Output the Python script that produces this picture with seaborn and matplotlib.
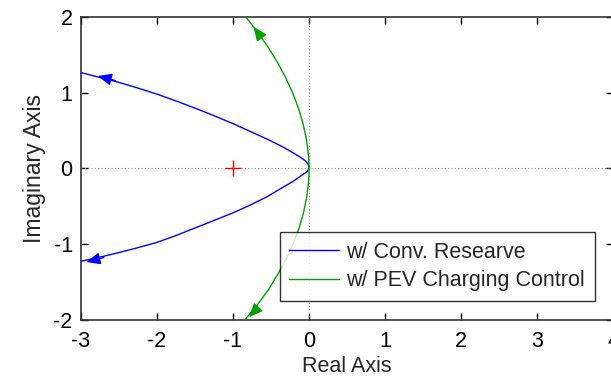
import numpy as np
import pandas as pd
import matplotlib
matplotlib.use("Agg")
import matplotlib.pyplot as plt
import seaborn as sns

# Root-locus branches (real part, imaginary part)
conv_upper_re = [0.0, -0.01, -0.05, -0.12, -0.22, -0.34, -0.55, -0.78, -1.0, -1.25, -1.5, -1.75, -2.0, -2.25, -2.5, -2.75, -3.0]
conv_upper_im = [0.0, 0.05, 0.10, 0.15, 0.21, 0.28, 0.385, 0.49, 0.59, 0.695, 0.795, 0.89, 0.98, 1.06, 1.135, 1.20, 1.265]
conv_lower_re = [0.0, -0.02, -0.06, -0.12, -0.22, -0.34, -0.55, -0.78, -1.0, -1.25, -1.5, -1.75, -2.0, -2.25, -2.5, -2.75, -3.0]
conv_lower_im = [0.0, -0.04, -0.07, -0.11, -0.18, -0.25, -0.375, -0.49, -0.59, -0.69, -0.79, -0.89, -0.98, -1.05, -1.115, -1.175, -1.23]

pev_upper_re = [0.0, -0.002, -0.01, -0.037, -0.081, -0.141, -0.217, -0.308, -0.415, -0.537, -0.675, -0.83]
pev_upper_im = [0.0, 0.1, 0.2, 0.4, 0.6, 0.8, 1.0, 1.2, 1.4, 1.6, 1.8, 2.0]
pev_lower_re = [0.0, -0.002, -0.008, -0.033, -0.075, -0.133, -0.208, -0.30, -0.41, -0.53, -0.675, -0.84]
pev_lower_im = [0.0, -0.1, -0.2, -0.4, -0.6, -0.8, -1.0, -1.2, -1.4, -1.6, -1.8, -2.0]

# Direction arrows along each branch: (tail, head)
conv_arrows = [((-2.55, 1.16), (-2.78, 1.22)), ((-2.7, -1.18), (-2.93, -1.24))]
pev_arrows = [((-0.62, 1.72), (-0.73, 1.87)), ((-0.68, -1.85), (-0.79, -1.97))]

open_loop_pole = (-1.0, 0.0)

series_names = ["w/ Conv. Researve", "w/ PEV Charging Control"]
series_colors = ["#0000ff", "#00a000"]
x_ticks = [-3, -2, -1, 0, 1, 2, 3, 4]
y_ticks = [-2, -1, 0, 1, 2]

sns.set_theme(style="white")
plt.rcParams["font.family"] = ["Liberation Sans", "DejaVu Sans"]
plt.rcParams["axes.unicode_minus"] = False

fig = plt.figure(figsize=(6.11, 3.81), dpi=100)
ax = fig.add_axes([81 / 611, 61.5 / 381, 532 / 611, 302.5 / 381])

frames = []
for name, branches in [
    (series_names[0], [(conv_upper_re, conv_upper_im), (conv_lower_re, conv_lower_im)]),
    (series_names[1], [(pev_upper_re, pev_upper_im), (pev_lower_re, pev_lower_im)]),
]:
    for i, (re, im) in enumerate(branches):
        frames.append(pd.DataFrame({"re": re, "im": im, "series": name, "branch": i}))
df = pd.concat(frames, ignore_index=True)

# zero reference lines
ax.axhline(0, color="#888888", lw=0.8, ls=(0, (1, 2)), zorder=1)
ax.axvline(0, color="#888888", lw=0.8, ls=(0, (1, 2)), zorder=1)

sns.lineplot(data=df, x="re", y="im", hue="series", units="branch", estimator=None,
             sort=False, palette=dict(zip(series_names, series_colors)),
             lw=1.0, ax=ax, zorder=3)

for arrows, color in [(conv_arrows, series_colors[0]), (pev_arrows, series_colors[1])]:
    for tail, head in arrows:
        ax.annotate("", xy=head, xytext=tail,
                    arrowprops=dict(arrowstyle="-|>,head_length=0.7,head_width=0.3",
                                    color=color, lw=1.0, shrinkA=0, shrinkB=0),
                    zorder=4)

ax.plot(*open_loop_pole, marker="+", color="red", markersize=11.5, mew=1.0, ls="none", zorder=5)

ax.set_xlim(-3, 4)
ax.set_ylim(-2, 2)
ax.set_xticks(x_ticks)
ax.set_yticks(y_ticks)
ax.set_xlabel("Real Axis", fontsize=15.5, labelpad=3)
ax.set_ylabel("Imaginary Axis", fontsize=16.5, labelpad=5)
ax.tick_params(direction="in", length=5, width=1, colors="black", labelsize=15.5,
               top=True, right=True, bottom=True, left=True)
ax.tick_params(axis="x", pad=8)
ax.tick_params(axis="y", pad=6)
for s in ax.spines.values():
    s.set_color("#333333")
    s.set_linewidth(1.2)

leg = ax.legend(loc="lower right", bbox_to_anchor=(0.966, 0.061), borderaxespad=0,
                fontsize=15.5, frameon=True, fancybox=False, handlelength=2.3,
                handletextpad=0.35, borderpad=0.45, labelspacing=0.35, title=None)
leg.get_frame().set_edgecolor("black")
leg.get_frame().set_linewidth(1.0)
for line in leg.get_lines():
    line.set_linewidth(1.0)

fig.savefig("out.png", dpi=100)
